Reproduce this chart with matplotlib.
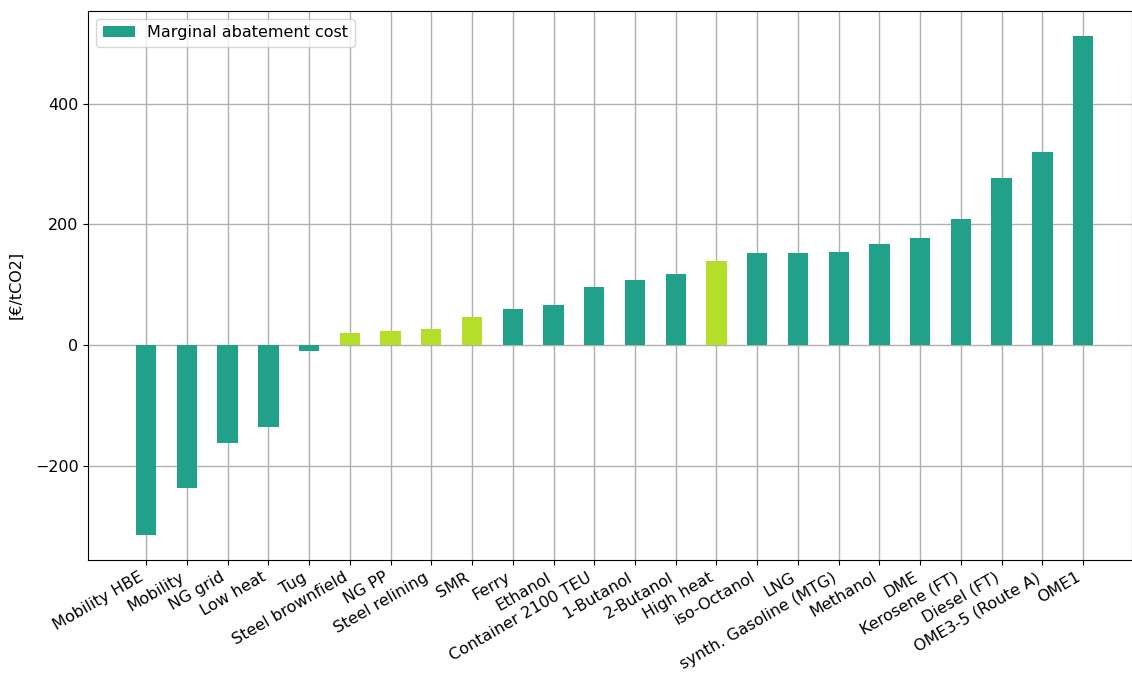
import numpy as np
import matplotlib
matplotlib.use('Agg')
import matplotlib.pyplot as plt

# marginal abatement cost per option, sorted ascending
options = ['Mobility HBE', 'Mobility', 'NG grid', 'Low heat', 'Tug',
           'Steel brownfield', 'NG PP', 'Steel relining', 'SMR', 'Ferry',
           'Ethanol', 'Container 2100 TEU', '1-Butanol', '2-Butanol',
           'High heat', 'iso-Octanol', 'LNG', 'synth. Gasoline (MTG)',
           'Methanol', 'DME', 'Kerosene (FT)', 'Diesel (FT)',
           'OME3-5 (Route A)', 'OME1']
cost = [-315, -237, -163, -136, -10, 20, 23, 26, 46, 60, 66, 96, 108, 118,
        139, 153, 152, 154, 168, 178, 209, 277, 320, 513]
# options that are highlighted in the lighter colour
highlight = ['Steel brownfield', 'NG PP', 'Steel relining', 'SMR', 'High heat']

teal = '#21a08a'
lime = '#b5de2b'
colors = [lime if o in highlight else teal for o in options]

plt.rcParams['font.size'] = 11.5
fig, ax = plt.subplots(figsize=(11.32, 6.73), dpi=100)
x = np.arange(len(options))
ax.bar(x, cost, width=0.5, color=colors, label='Marginal abatement cost',
       zorder=3)
ax.grid(True, color='#b0b0b0', linewidth=1.0, zorder=0)
ax.set_axisbelow(True)
ax.set_xticks(x)
ax.set_xticklabels(options, rotation=30, ha='right')
ax.set_xlim(-1.42, len(options) - 1 + 1.2)
ax.margins(y=0.05)
ax.set_ylabel('[€/tCO2]', labelpad=8)
ax.legend(loc='upper left')

fig.subplots_adjust(left=0.078, right=1.0, top=0.984, bottom=0.168)
fig.savefig('out.png')
